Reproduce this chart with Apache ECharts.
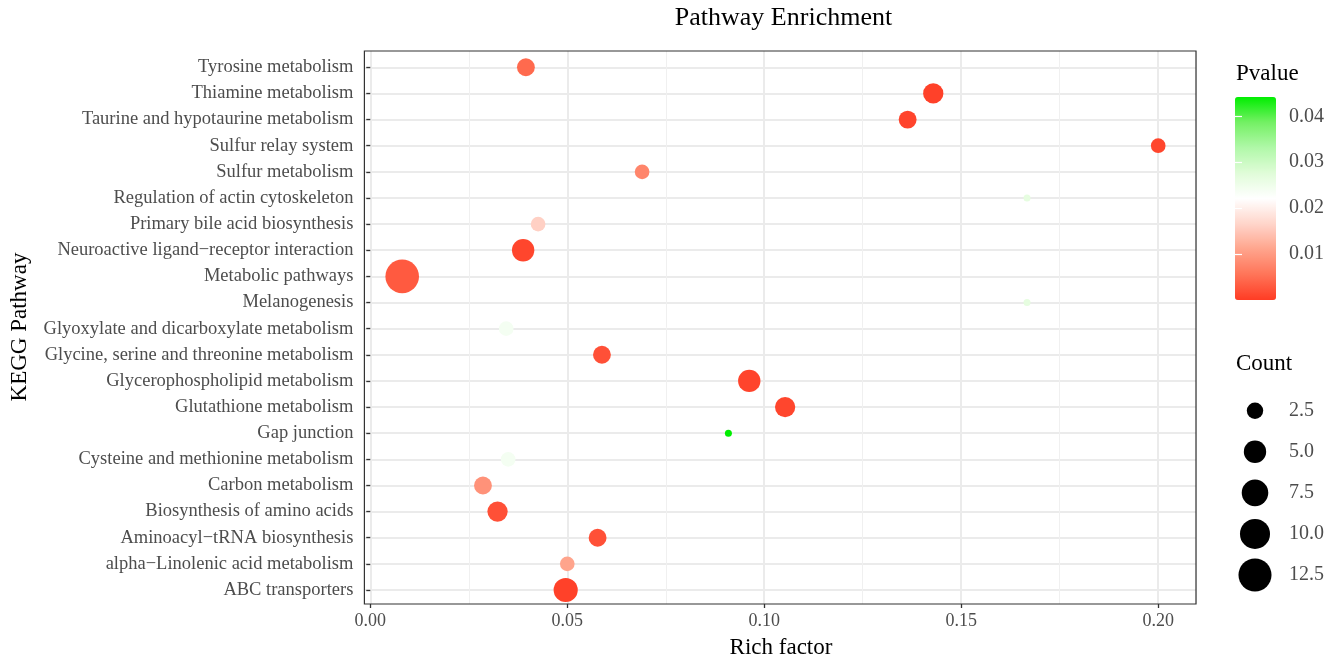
<!DOCTYPE html>
<html>
<head>
<meta charset="utf-8">
<script src="https://cdn.jsdelivr.net/npm/echarts@6/dist/echarts.min.js"></script>
<style>
html,body{margin:0;padding:0;background:#fff;}
#chart{width:1343px;height:663px;}
</style>
</head>
<body>
<div id="chart"></div>
<script>
// ---- data (bottom to top, as in the reference) ----
const pathways = [
  "ABC transporters",
  "alpha\u2212Linolenic acid metabolism",
  "Aminoacyl\u2212tRNA biosynthesis",
  "Biosynthesis of amino acids",
  "Carbon metabolism",
  "Cysteine and methionine metabolism",
  "Gap junction",
  "Glutathione metabolism",
  "Glycerophospholipid metabolism",
  "Glycine, serine and threonine metabolism",
  "Glyoxylate and dicarboxylate metabolism",
  "Melanogenesis",
  "Metabolic pathways",
  "Neuroactive ligand\u2212receptor interaction",
  "Primary bile acid biosynthesis",
  "Regulation of actin cytoskeleton",
  "Sulfur metabolism",
  "Sulfur relay system",
  "Taurine and hypotaurine metabolism",
  "Thiamine metabolism",
  "Tyrosine metabolism"
];
const richFactor = [0.0496, 0.0500, 0.0577, 0.0323, 0.0286, 0.0350, 0.0909, 0.1053, 0.0962, 0.0588, 0.0345,
                    0.1667, 0.0081, 0.0388, 0.0426, 0.1667, 0.0690, 0.2000, 0.1364, 0.1429, 0.0395];
const geneCount  = [6, 2, 3, 4, 3, 2, 1, 4, 5, 3, 2, 1, 13, 5, 2, 1, 2, 2, 3, 4, 3];
const pValue     = [0.0005, 0.0110, 0.0020, 0.0020, 0.0090, 0.0240, 0.0442, 0.0010, 0.0008, 0.0020, 0.0240,
                    0.0265, 0.0030, 0.0010, 0.0160, 0.0265, 0.0075, 0.0010, 0.0008, 0.0005, 0.0045];

const xTicks = [0, 0.05, 0.10, 0.15, 0.20];
const pTicks = [0.01, 0.02, 0.03, 0.04];
const countBreaks = [2.5, 5, 7.5, 10, 12.5];
const countLabels = ["2.5", "5.0", "7.5", "10.0", "12.5"];

// ---- scales ----
const rMin = Math.min(...richFactor), rMax = Math.max(...richFactor);
const xMin = rMin - 0.05 * (rMax - rMin);
const xMax = rMax + 0.05 * (rMax - rMin);
const cMin = Math.min(...geneCount), cMax = Math.max(...geneCount);
const sizeRange = [7, 33.6];
function sizeOf(c) {
  const t = Math.max(0, (c - cMin) / (cMax - cMin));
  return sizeRange[0] + (sizeRange[1] - sizeRange[0]) * Math.sqrt(t);
}
const pMin = 0, pMax = Math.max(...pValue);

const FONT = "Liberation Serif";
const GRID_L = 364.4, GRID_R = 147;
const grayTxt = "#4d4d4d";

const chart = echarts.init(document.getElementById("chart"), null, {renderer: "canvas"});

const option = {
  animation: false,
  backgroundColor: "#fff",
  textStyle: {fontFamily: FONT},
  grid: [
    {left: GRID_L, right: GRID_R, top: 51, bottom: 59, show: false, containLabel: false},
    {left: GRID_L, right: GRID_R, top: 67.3, bottom: 73, show: false, containLabel: false},
    {left: 1235, width: 41, top: 97, height: 203, show: false, containLabel: false},
    {left: 1240, width: 30, top: 410.7, height: 164.3, show: false, containLabel: false},
    {left: GRID_L, right: GRID_R, top: 51, bottom: 59, show: true, z: 20,
     backgroundColor: "transparent", borderColor: "#333", borderWidth: 1.2, containLabel: false}
  ],
  xAxis: [
    { // major
      gridIndex: 0, type: "value", min: xMin, max: xMax, splitNumber: 4,
      axisLine: {show: false},
      axisTick: {show: true, length: 4, lineStyle: {color: "#333", width: 1.3}, customValues: xTicks},
      axisLabel: {show: true, color: grayTxt, fontSize: 18, fontFamily: FONT, margin: 8,
                  customValues: xTicks, formatter: v => v.toFixed(2)},
      splitLine: {show: true, lineStyle: {color: "#ebebeb", width: 2}}
    },
    { // minor grid lines (shifted by half a break)
      gridIndex: 0, type: "value", min: xMin - 0.025, max: xMax - 0.025, splitNumber: 4,
      axisLine: {show: false}, axisTick: {show: false}, axisLabel: {show: false},
      splitLine: {show: true, lineStyle: {color: "#f0f0f0", width: 1}}
    },
    { // data
      gridIndex: 1, type: "value", min: xMin, max: xMax, show: false
    },
    {gridIndex: 2, type: "value", show: false, min: 0, max: 1},
    {gridIndex: 3, type: "value", show: false, min: -1, max: 1},
    {gridIndex: 4, type: "value", show: false, min: 0, max: 1}
  ],
  yAxis: [
    {gridIndex: 0, type: "value", show: false, min: 0, max: 1},
    {
      gridIndex: 1, type: "category", data: pathways, boundaryGap: false,
      axisLine: {show: false},
      axisTick: {show: true, length: 4, lineStyle: {color: "#333", width: 1.3}},
      axisLabel: {color: grayTxt, fontSize: 18.5, fontFamily: FONT, margin: 11},
      splitLine: {show: true, lineStyle: {color: "#ebebeb", width: 2}}
    },
    { // colour bar labels (right)
      gridIndex: 2, type: "value", position: "right", min: pMin, max: pMax, z: 10,
      axisLine: {show: false},
      axisTick: {show: true, inside: true, length: 7, lineStyle: {color: "#fff", width: 1.2}, customValues: pTicks},
      axisLabel: {color: grayTxt, fontSize: 20, fontFamily: FONT, margin: 13, customValues: pTicks,
                  formatter: v => v.toFixed(2)},
      splitLine: {show: false}
    },
    { // colour bar ticks (left)
      gridIndex: 2, type: "value", position: "left", min: pMin, max: pMax, z: 10,
      axisLine: {show: false},
      axisTick: {show: true, inside: true, length: 7, lineStyle: {color: "#fff", width: 1.2}, customValues: pTicks},
      axisLabel: {show: false},
      splitLine: {show: false}
    },
    { // count legend
      gridIndex: 3, type: "category", data: countLabels, inverse: true, boundaryGap: false, position: "right",
      axisLine: {show: false}, axisTick: {show: false},
      axisLabel: {color: grayTxt, fontSize: 20, fontFamily: FONT, margin: 19},
      splitLine: {show: false}
    },
    {gridIndex: 4, type: "value", show: false, min: 0, max: 1}
  ],
  visualMap: [{
    type: "continuous", seriesIndex: 0, dimension: 3,
    min: pMin, max: pMax, calculable: false, hoverLink: false,
    left: 1235, top: 97, itemWidth: 41, itemHeight: 203, padding: 0,
    text: null, showLabel: false,
    inRange: {color: ["#ff3c24", "#ff7458", "#ffa48c", "#ffd5ca", "#ffffff",
                      "#e0fcd8", "#b0f8a8", "#74f064", "#00ee00"]}
  }],
  series: [
    {
      type: "scatter", xAxisIndex: 2, yAxisIndex: 1, clip: false,
      data: pathways.map((p, i) => [richFactor[i], p, geneCount[i], pValue[i]]),
      symbolSize: v => sizeOf(v[2]),
      itemStyle: {opacity: 1, borderWidth: 0}
    },
    {
      type: "scatter", xAxisIndex: 4, yAxisIndex: 4, clip: false,
      data: countBreaks.map((c, i) => [0, countLabels[i], c]),
      symbolSize: v => sizeOf(v[2]),
      itemStyle: {color: "#000", opacity: 1}
    }
  ],
  graphic: [
    {type: "text", x: 783.5, y: 18, style: {text: "Pathway Enrichment", font: "26px " + FONT,
      fill: "#000", align: "center", verticalAlign: "middle"}},
    {type: "text", x: 781, y: 648, style: {text: "Rich factor", font: "23px " + FONT,
      fill: "#000", align: "center", verticalAlign: "middle"}},
    {type: "text", x: 20, y: 327, rotation: Math.PI / 2, style: {text: "KEGG Pathway", font: "23px " + FONT,
      fill: "#000", align: "center", verticalAlign: "middle"}},
    {type: "text", x: 1236, y: 74, style: {text: "Pvalue", font: "23px " + FONT,
      fill: "#000", align: "left", verticalAlign: "middle"}},
    {type: "text", x: 1236, y: 364, style: {text: "Count", font: "23px " + FONT,
      fill: "#000", align: "left", verticalAlign: "middle"}}
  ]
};
chart.setOption(option);
</script>
</body>
</html>
